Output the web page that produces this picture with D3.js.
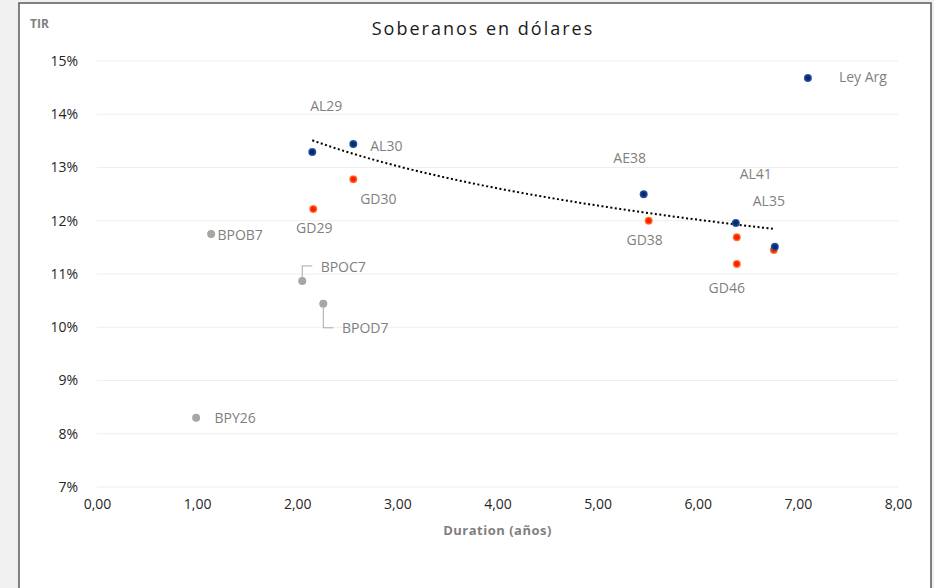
<!DOCTYPE html>
<html>
<head>
<meta charset="utf-8">
<script src="https://cdn.jsdelivr.net/npm/d3@7"></script>
<style>
  body { margin: 0; background: #f0f0f0; }
  svg { display: block; font-family: "Open Sans", "Noto Sans", sans-serif; }
</style>
</head>
<body>
<svg width="934" height="588"></svg>
<script>
    // duration (años) and TIR (%) per bond
    var alNames = ["AL29", "AL30", "AE38", "AL41", "AL35"];
    var alDur   = [2.15, 2.56, 5.46, 6.38, 6.77];
    var alTir   = [13.29, 13.44, 12.50, 11.96, 11.51];

    var gdNames = ["GD29", "GD30", "GD38", "GD41", "GD35", "GD46"];
    var gdDur   = [2.16, 2.56, 5.51, 6.39, 6.76, 6.39];
    var gdTir   = [12.22, 12.78, 12.00, 11.69, 11.45, 11.19];

    var leyNames = ["Ley Arg"];
    var leyDur   = [7.10];
    var leyTir   = [14.68];

    var bpNames = ["BPOB7", "BPOC7", "BPOD7", "BPY26"];
    var bpDur   = [1.14, 2.05, 2.26, 0.99];
    var bpTir   = [11.75, 10.87, 10.44, 8.30];

    var xTicks = [0, 1, 2, 3, 4, 5, 6, 7, 8];
    var yTicks = [7, 8, 9, 10, 11, 12, 13, 14, 15];

    // label placement (dx, dy from the dot), missing = no label
    var labelPos = {
        "AL29": [14, -46], "AL30": [33, 2], "AE38": [-14, -36], "AL41": [20, -49], "AL35": [-6, -46],
        "GD29": [1, 19], "GD30": [25, 20], "GD38": [-4, 19], "GD46": [-10, 24],
        "Ley Arg": [55, -1],
        "BPOB7": [29, 1], "BPOC7": [41, -14], "BPOD7": [42, 24], "BPY26": [39, 0]
    };

    var svg = d3.select("svg");

    svg.append("rect")
        .attr("x", 19).attr("y", 3)
        .attr("width", 912).attr("height", 600)
        .attr("fill", "#fff")
        .attr("stroke", "#595959")
        .attr("stroke-width", 1.5);

    var x = d3.scaleLinear().domain([0, 8]).range([97, 898]);
    var y = d3.scaleLinear().domain([7, 15]).range([487, 61]);

    var defs = svg.append("defs");
    function grad(id, inner, outer) {
        var g = defs.append("radialGradient").attr("id", id);
        g.append("stop").attr("offset", "45%").attr("stop-color", inner);
        g.append("stop").attr("offset", "100%").attr("stop-color", outer);
    }
    grad("blueDot", "#0b2a6b", "#2f5fb3");
    grad("redDot", "#ff1a00", "#ff8a3a");

    // grid
    svg.append("g")
        .selectAll("line")
        .data(yTicks)
        .enter()
            .append("line")
            .attr("x1", x(0)).attr("x2", x(8))
            .attr("y1", function (d) { return y(d); })
            .attr("y2", function (d) { return y(d); })
            .attr("stroke", "#eeeeee")
            .attr("stroke-width", 1);

    var yAxis = svg.append("g")
        .attr("transform", "translate(" + (x(0) - 16) + ",0)")
        .call(d3.axisLeft(y).tickValues(yTicks).tickSize(0).tickFormat(function (d) { return d + "%"; }));
    var xAxis = svg.append("g")
        .attr("transform", "translate(0," + (y(7) + 9) + ")")
        .call(d3.axisBottom(x).tickValues(xTicks).tickSize(0).tickFormat(function (d) { return d3.format(".2f")(d).replace(".", ","); }));
    [yAxis, xAxis].forEach(function (g) {
        g.select(".domain").remove();
        g.selectAll("text").attr("fill", "#262626")
            .style("font-family", "'Open Sans', sans-serif").style("font-size", "14px");
    });

    // log trendline of the AL series
    var lx = alDur.map(Math.log),
        mx = d3.mean(lx), my = d3.mean(alTir);
    var b = d3.sum(lx, function (v, i) { return (v - mx) * (alTir[i] - my); }) /
            d3.sum(lx, function (v) { return (v - mx) * (v - mx); });
    var a = my - b * mx;
    var trendX = d3.range(d3.min(alDur), d3.max(alDur) + 0.001, 0.05);
    svg.append("path")
        .attr("d", d3.line()
            .x(function (d) { return x(d); })
            .y(function (d) { return y(a + b * Math.log(d)); })(trendX))
        .attr("fill", "none")
        .attr("stroke", "#000")
        .attr("stroke-width", 2)
        .attr("stroke-dasharray", "2,2.5");

    function series(names, dur, tir, fill) {
        var rows = names.map(function (n, i) { return { name: n, d: dur[i], t: tir[i] }; });
        svg.append("g")
            .selectAll("circle")
            .data(rows)
            .enter()
                .append("circle")
                .attr("cx", function (d) { return x(d.d); })
                .attr("cy", function (d) { return y(d.t); })
                .attr("r", 4)
                .attr("fill", fill);
        svg.append("g")
            .selectAll("text")
            .data(rows.filter(function (d) { return labelPos[d.name]; }))
            .enter()
                .append("text")
                .attr("x", function (d) { return x(d.d) + labelPos[d.name][0]; })
                .attr("y", function (d) { return y(d.t) + labelPos[d.name][1]; })
                .attr("text-anchor", "middle")
                .attr("dy", "0.35em")
                .attr("fill", "#7f7f7f")
                .style("font-size", "14px")
                .text(function (d) { return d.name; });
    }

    // leader lines for the BPO labels
    var bpLeaders = { "BPOC7": [[0, -3], [0, -15], [10, -15]], "BPOD7": [[0, 4], [0, 24], [10, 24]] };
    Object.keys(bpLeaders).forEach(function (n) {
        var i = bpNames.indexOf(n);
        svg.append("path")
            .attr("d", d3.line()(bpLeaders[n].map(function (p) { return [x(bpDur[i]) + p[0], y(bpTir[i]) + p[1]]; })))
            .attr("fill", "none")
            .attr("stroke", "#a6a6a6")
            .attr("stroke-width", 1);
    });

    series(bpNames, bpDur, bpTir, "#a6a6a6");
    series(gdNames, gdDur, gdTir, "url(#redDot)");
    series(alNames, alDur, alTir, "url(#blueDot)");
    series(leyNames, leyDur, leyTir, "url(#blueDot)");

    svg.append("text")
        .attr("x", 483).attr("y", 35)
        .attr("text-anchor", "middle")
        .attr("fill", "#1a1a1a")
        .style("font-size", "18px")
        .style("letter-spacing", "2px")
        .text("Soberanos en dólares");

    svg.append("text")
        .attr("x", 30).attr("y", 28)
        .attr("fill", "#7f7f7f")
        .style("font-size", "12px")
        .style("font-weight", "bold")
        .text("TIR");

    svg.append("text")
        .attr("x", x(4)).attr("y", 535)
        .attr("text-anchor", "middle")
        .attr("fill", "#7f7f7f")
        .style("font-size", "13px")
        .style("font-weight", "bold")
        .style("letter-spacing", "0.5px")
        .text("Duration (años)");
</script>
</body>
</html>
